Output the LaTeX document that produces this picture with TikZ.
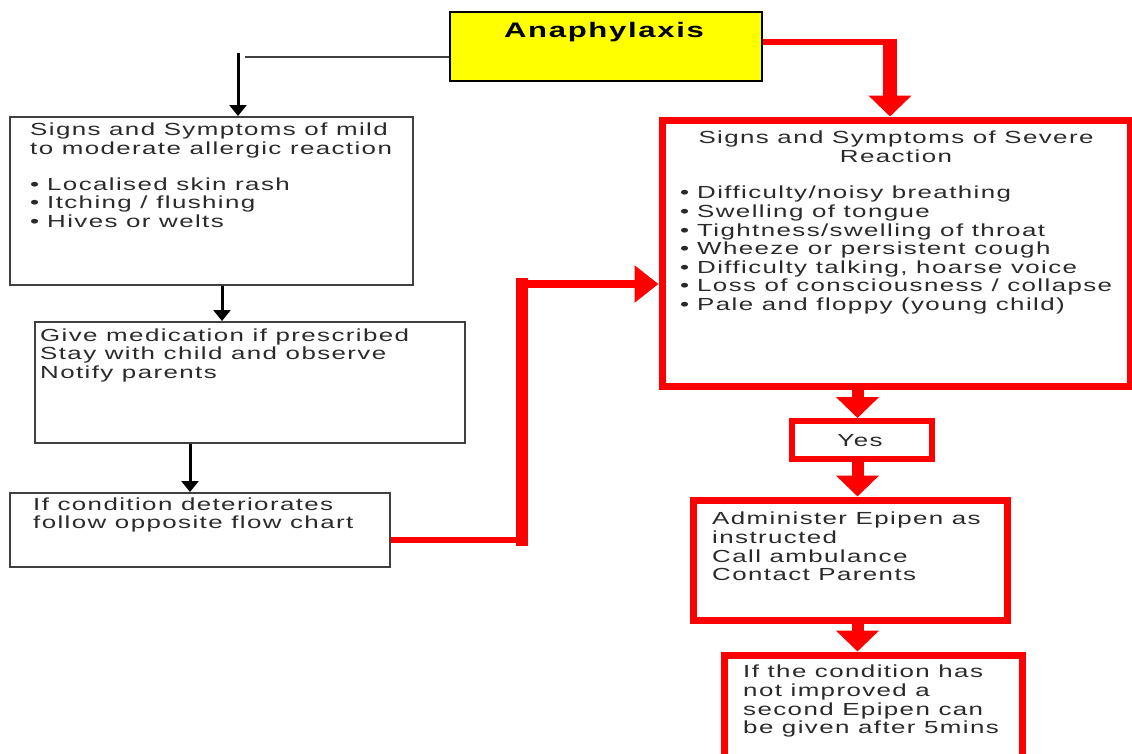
\documentclass[tikz,border=0pt]{standalone}
\usepackage{fontspec}
\setmainfont{Liberation Sans}[FakeStretch=1.48,LetterSpace=8]
\usetikzlibrary{arrows.meta,positioning}
\definecolor{alarm}{HTML}{FF0000}
\definecolor{banner}{HTML}{FFFF00}
\definecolor{ink}{HTML}{2A2A2A}
\definecolor{frame}{HTML}{404040}
\newcommand{\bul}{\makebox[17pt][l]{•}}
\tikzset{
  lab/.style={text=ink, font=\fontsize{17.5}{18.6}\selectfont, inner sep=0pt, align=left, anchor=north west},
  headlab/.style={text=black, font=\fontsize{21}{24}\selectfont\bfseries, inner sep=0pt, anchor=base},
  calm/.style={draw=frame, line width=2pt, inner sep=0pt},
  severe/.style={draw=alarm, line width=7pt, inner sep=0pt},
  banner/.style={fill=banner, draw=black, line width=2pt, inner sep=0pt},
  calmline/.style={draw=frame, line width=1.5pt},
  calmarrow/.style={draw=black, line width=3pt, -{Triangle[width=17pt,length=11pt]}},
  redline/.style={draw=alarm, line width=#1},
  redarrow/.style={draw=alarm, line width=12pt, -{Triangle[width=42pt,length=21pt]}}
}

\begin{document}
\begin{tikzpicture}[x=1pt,y=-1pt]
  \useasboundingbox (0,0) rectangle (1132,753);

  % title
  \node[banner, minimum width=312pt, minimum height=69pt] (top) at (606,46.5) {};
  \node[headlab] (toplab) at (604,37) {Anaphylaxis};

  % mild side
  \node[calm, minimum width=403pt, minimum height=168pt] (mild) at (211.5,201) {};
  \node[lab] (mildlab) at (30,123) {Signs and Symptoms of mild\\
    to moderate allergic reaction\\[17pt]
    \bul Localised skin rash\\
    \bul Itching / flushing\\
    \bul Hives or welts};

  \node[calm, minimum width=430pt, minimum height=121pt] (meds) at (250,382.5) {};
  \node[lab] (medslab) at (40,328.5) {Give medication if prescribed\\
    Stay with child and observe\\
    Notify parents};

  \node[calm, minimum width=380pt, minimum height=74pt] (worse) at (200,530) {};
  \node[lab] (worselab) at (33,497.5) {If condition deteriorates\\
    follow opposite flow chart};

  % severe side
  \node[severe, minimum width=468pt, minimum height=266pt] (sev) at (896,253) {};
  \node[lab, align=center, anchor=north] (sevhead) at (896,131) {Signs and Symptoms of Severe\\ Reaction};
  \node[lab] (sevlab) at (680,186) {\bul Difficulty/noisy breathing\\
    \bul Swelling of tongue\\
    \bul Tightness/swelling of throat\\
    \bul Wheeze or persistent cough\\
    \bul Difficulty talking, hoarse voice\\
    \bul Loss of consciousness / collapse\\
    \bul Pale and floppy (young child)};

  \node[severe, line width=6pt, minimum width=140pt, minimum height=38pt] (yes) at (861.5,440) {};
  \node[lab, anchor=north] (yeslab) at (860,434) {Yes};

  \node[severe, minimum width=314pt, minimum height=120pt] (epi) at (850,560) {};
  \node[lab] (epilab) at (712,512) {Administer Epipen as\\
    instructed\\
    Call ambulance\\
    Contact Parents};

  \node[severe, minimum width=298pt, minimum height=134pt] (again) at (873,722) {};
  \node[lab] (againlab) at (743,665) {If the condition has\\
    not improved a\\
    second Epipen can\\
    be given after 5mins};

  % black connectors
  \coordinate (split) at (238,57);
  \draw[calmline] (top.west |- split) -- ([xshift=7pt]split);
  \draw[calmarrow] ([yshift=4pt]split) -- (split |- mild.north);
  \draw[calmarrow] ([xshift=10.5pt]mild.south) -- ([xshift=10.5pt]mild.south |- meds.north);
  \draw[calmarrow] ([xshift=-60pt]meds.south) -- ([xshift=-60pt]meds.south |- worse.north);

  % red connectors
  \coordinate (drop) at (890,41.5);
  \draw[redline=6pt] (top.east |- drop) -- ([xshift=7pt]drop);
  \draw[redarrow, line width=14pt] ([yshift=3pt]drop) -- (drop |- sev.north);

  \coordinate (bendlow) at (522,540);
  \coordinate (bendhigh) at (522,284);
  \draw[redline=6pt] (worse.east |- bendlow) -- (bendlow);
  \draw[redline=12pt, line cap=rect] (bendlow) -- (bendhigh);
  \draw[redarrow, line width=8pt, -{Triangle[width=36pt,length=24pt]}] (bendhigh) -- (sev.west |- bendhigh);

  \draw[redarrow] ([xshift=-4pt]yes.north |- sev.south) -- ([xshift=-4pt]yes.north);
  \draw[redarrow] ([xshift=-4pt]yes.south) -- ([xshift=-4pt]yes.south |- epi.north);
  \draw[redarrow] ([xshift=-4pt]yes.south |- epi.south) -- ([xshift=-4pt]yes.south |- again.north);
\end{tikzpicture}
\end{document}
